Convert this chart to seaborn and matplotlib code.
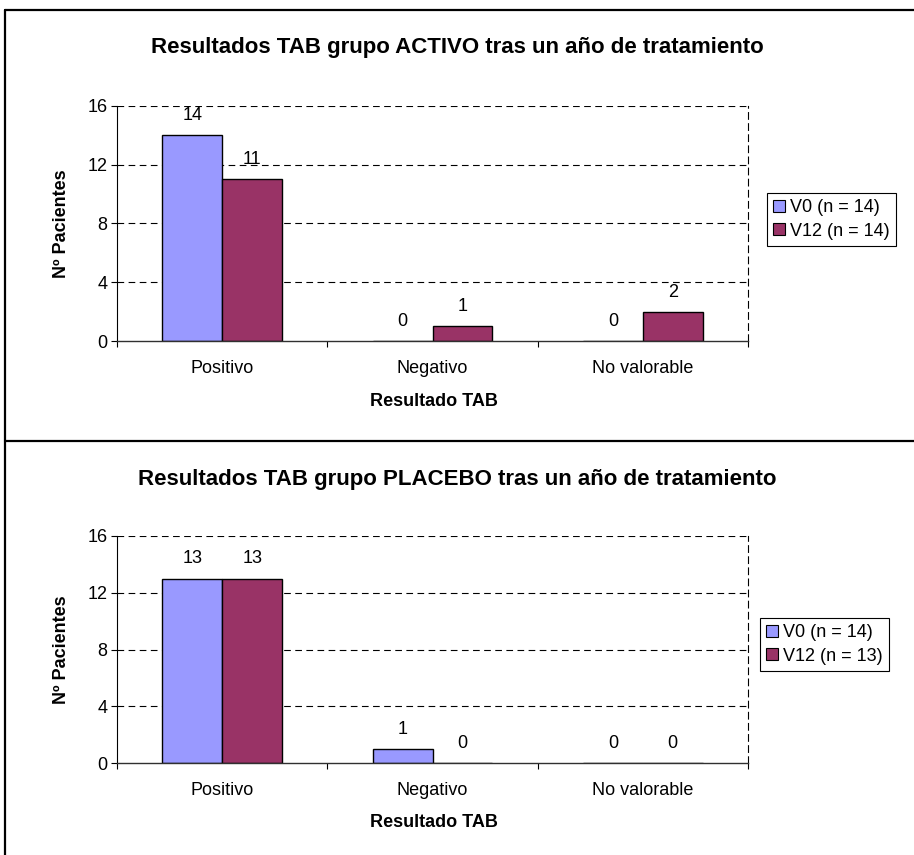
import matplotlib
matplotlib.use("Agg")
import matplotlib.pyplot as plt
from matplotlib.patches import Patch
from matplotlib.lines import Line2D
import seaborn as sns
import pandas as pd

# Results of the TAB test, by group and visit
categorias = ["Positivo", "Negativo", "No valorable"]
activo_v0 = [14, 0, 0]
activo_v12 = [11, 1, 2]
placebo_v0 = [13, 1, 0]
placebo_v12 = [13, 0, 0]
leyenda_activo = ["V0 (n = 14)", "V12 (n = 14)"]
leyenda_placebo = ["V0 (n = 14)", "V12 (n = 13)"]
titulo_activo = "Resultados TAB grupo ACTIVO tras un año de tratamiento"
titulo_placebo = "Resultados TAB grupo PLACEBO tras un año de tratamiento"
y_ticks = [0, 4, 8, 12, 16]

colores = ["#9999FF", "#993366"]

sns.set_theme(style="white")
plt.rcParams["font.family"] = ["Liberation Sans", "DejaVu Sans"]
plt.rcParams["text.color"] = "black"
plt.rcParams["axes.labelcolor"] = "black"
plt.rcParams["xtick.color"] = "black"
plt.rcParams["ytick.color"] = "black"

FS = 13
W, H = 914, 855
fig = plt.figure(figsize=(W / 100, H / 100), dpi=100)


def fx(px):
    return px / W


def fy(py):
    return 1 - py / H


def panel(top_px, bottom_px, v0, v12, labels, titulo, title_y, ylab_y, xlab_y, leg_box):
    ax = fig.add_axes([fx(117), fy(bottom_px), fx(748) - fx(117), fy(top_px) - fy(bottom_px)])
    df = pd.DataFrame({
        "Resultado": categorias * 2,
        "Pacientes": v0 + v12,
        "Visita": [labels[0]] * 3 + [labels[1]] * 3,
    })
    sns.barplot(data=df, x="Resultado", y="Pacientes", hue="Visita",
                palette=colores, width=0.57, edgecolor="black", linewidth=1.0,
                saturation=1, ax=ax, legend=False)
    for cont in ax.containers:
        ax.bar_label(cont, labels=[f"{int(b.get_height())}" for b in cont],
                     padding=8, fontsize=FS, color="black")
    ax.set_ylim(0, 16)
    ax.set_xlim(-0.5, 2.5)
    ax.set_yticks(y_ticks)
    ax.set_yticklabels([str(t) for t in y_ticks], fontsize=FS)
    ax.set_xticks(range(3))
    ax.set_xticklabels(categorias, fontsize=FS)
    ax.set_xticks([-0.5, 0.5, 1.5, 2.5], minor=True)
    ax.tick_params(axis="x", which="major", length=0, pad=14)
    ax.tick_params(axis="x", which="minor", bottom=True, length=4, width=0.8)
    ax.tick_params(axis="y", left=True, length=4, width=0.8, pad=3)
    ax.set_xlabel("")
    ax.set_ylabel("")
    # dashed gridlines
    for t in y_ticks[1:]:
        ax.axhline(t, color="black", lw=0.8, ls=(0, (6, 4)), zorder=0)
    ax.spines["left"].set_color("black")
    ax.spines["left"].set_linewidth(0.8)
    ax.spines["bottom"].set_color("#303030")
    ax.spines["bottom"].set_linewidth(1.0)
    ax.spines["top"].set_visible(False)
    ax.spines["right"].set_linestyle((0, (6, 4)))
    ax.spines["right"].set_color("black")
    ax.spines["right"].set_linewidth(0.8)
    ax.set_facecolor("white")

    fig.text(0.5, fy(title_y), titulo, ha="center", va="center",
             fontsize=16, fontweight="bold")
    fig.text(fx(62), fy(ylab_y), "Nº Pacientes", rotation=90, ha="center",
             va="center", fontsize=FS, fontweight="bold")
    fig.text(fx(434), fy(xlab_y), "Resultado TAB", ha="center", va="center",
             fontsize=FS, fontweight="bold")

    handles = [Patch(facecolor=c, edgecolor="black", linewidth=0.8) for c in colores]
    x0, y0, x1, y1 = leg_box
    leg = fig.legend(handles, labels, loc="upper left",
                     bbox_to_anchor=(fx(x0), fy(y0)), fontsize=FS,
                     frameon=True, fancybox=False, framealpha=1,
                     edgecolor="black", handlelength=0.65, handleheight=0.65,
                     handletextpad=0.3, borderpad=0.35, labelspacing=0.35,
                     borderaxespad=0)
    leg.get_frame().set_linewidth(0.8)
    return ax


panel(106, 341, activo_v0, activo_v12, leyenda_activo, titulo_activo,
      47, 224, 401, (767, 193, 897, 250))
panel(536, 763, placebo_v0, placebo_v12, leyenda_placebo, titulo_placebo,
      479, 650, 822, (760, 618, 890, 678))

# outer frame and divider
lw = 1.6
fig.add_artist(Line2D([fx(5), 1.0], [fy(10), fy(10)], color="black", lw=lw))
fig.add_artist(Line2D([fx(5), fx(5)], [fy(10), 0.0], color="black", lw=lw))
fig.add_artist(Line2D([fx(5), 1.0], [fy(441), fy(441)], color="black", lw=lw))

fig.savefig("out.png", dpi=100, facecolor="white")
